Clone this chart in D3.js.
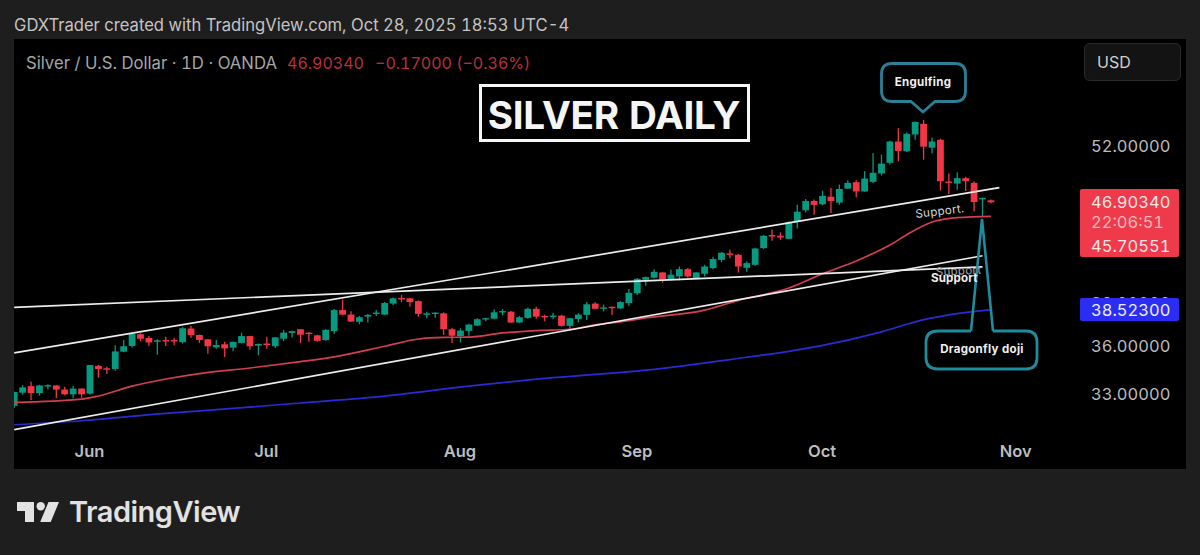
<!DOCTYPE html>
<html>
<head>
<meta charset="utf-8">
<script src="https://cdn.jsdelivr.net/npm/d3@7"></script>
<style>
  html, body { margin: 0; padding: 0; background: #1e1e1e; overflow: hidden; }
  text { font-family: Inter, "Noto Sans", sans-serif; font-variant-numeric: tabular-nums; }
</style>
</head>
<body>
<svg id="chart" width="1200" height="555"></svg>
<script>
// trading days, May 20 to Nov 3 (last three have no candle yet)
const days = [
  "05-20","05-21","05-22","05-23","05-26","05-27","05-28","05-29","05-30",
  "06-02","06-03","06-04","06-05","06-06","06-09","06-10","06-11","06-12","06-13","06-16","06-17","06-18","06-19","06-20","06-23","06-24","06-25","06-26","06-27","06-30",
  "07-01","07-02","07-03","07-04","07-07","07-08","07-09","07-10","07-11","07-14","07-15","07-16","07-17","07-18","07-21","07-22","07-23","07-24","07-25","07-28","07-29","07-30","07-31",
  "08-01","08-04","08-05","08-06","08-07","08-08","08-11","08-12","08-13","08-14","08-15","08-18","08-19","08-20","08-21","08-22","08-25","08-26","08-27","08-28","08-29",
  "09-01","09-02","09-03","09-04","09-05","09-08","09-09","09-10","09-11","09-12","09-15","09-16","09-17","09-18","09-19","09-22","09-23","09-24","09-25","09-26","09-29","09-30",
  "10-01","10-02","10-03","10-06","10-07","10-08","10-09","10-10","10-13","10-14","10-15","10-16","10-17","10-20","10-21","10-22","10-23","10-24","10-27","10-28","10-29","10-30","10-31",
  "11-03"];

const monthDays = ["06-02","07-01","08-01","09-01","10-01","11-03"];
const monthLabels = ["Jun","Jul","Aug","Sep","Oct","Nov"];
const priceTicks = [33, 36, 39, 52];

const opens = [
  32.29,33.08,33.48,33.06,33.48,33.52,33.27,32.98,33.33,33.02,
  34.75,34.59,34.55,35.66,36.04,36.82,36.57,36.31,36.43,36.43,
  36.29,37.21,36.77,36.48,35.95,36.15,35.93,36.24,36.70,36.06,
  36.20,36.02,36.52,36.91,37.16,36.93,36.75,36.43,37.03,38.49,
  38.17,37.67,38.03,38.22,38.17,38.95,39.35,39.33,39.13,38.20,
  38.24,38.26,37.16,36.70,37.05,37.41,37.85,37.89,38.35,38.38,
  37.62,37.94,38.58,38.08,38.03,38.10,37.39,37.87,38.15,38.95,
  38.61,38.72,38.61,38.99,39.69,40.69,40.84,41.24,40.69,40.94,
  41.49,40.82,41.14,41.57,42.20,42.70,42.60,41.59,41.82,43.12,
  44.17,44.11,43.86,45.24,46.22,47.01,46.73,47.39,46.87,48.09,
  48.66,47.84,48.69,49.45,50.42,52.43,51.50,53.11,54.16,51.84,
  52.60,48.72,48.54,49.02,48.60,47.20,47.07];
const highs = [
  33.15,33.54,33.75,33.56,33.60,33.55,33.44,33.48,33.35,34.82,
  34.80,34.69,36.08,36.43,36.89,36.89,36.70,36.48,36.66,36.59,
  37.30,37.39,36.80,36.50,36.43,36.31,36.33,36.93,36.72,36.20,
  36.66,36.63,37.12,37.05,37.18,36.95,36.79,37.16,38.56,39.23,
  38.40,38.08,38.22,38.49,39.06,39.38,39.56,39.35,39.18,38.38,
  38.33,38.33,37.27,37.23,37.53,37.92,37.96,38.54,38.56,38.42,
  38.08,38.65,38.72,38.17,38.31,38.15,37.96,38.26,39.06,39.04,
  38.88,38.74,39.13,40.01,40.82,40.94,41.49,41.26,41.44,41.69,
  41.57,41.26,41.82,42.44,42.82,43.00,42.65,42.07,43.14,44.17,
  44.61,44.38,45.29,46.68,47.18,47.15,47.91,48.15,48.45,48.84,
  48.84,49.65,51.32,51.19,52.50,53.74,53.31,54.38,54.55,52.82,
  52.69,49.45,49.56,49.15,48.75,47.30,47.14];
const lows = [
  32.16,32.96,32.64,32.90,33.27,32.74,32.93,32.74,32.77,32.96,
  34.00,34.23,34.44,35.63,35.93,36.34,36.04,35.47,36.04,36.08,
  36.20,36.59,36.24,35.53,35.86,35.32,35.70,36.20,35.79,35.43,
  35.86,35.90,36.36,36.61,36.24,36.31,36.31,36.38,36.84,38.15,
  37.65,37.51,37.62,38.08,38.13,38.84,39.06,38.72,38.03,37.92,
  37.96,36.77,36.24,36.27,36.72,37.39,37.71,37.85,38.13,37.58,
  37.58,37.89,37.89,37.71,37.85,37.34,37.07,37.62,37.80,38.54,
  38.40,38.15,38.56,38.77,39.56,40.24,40.79,40.48,40.64,40.64,
  40.86,40.77,40.94,41.49,42.02,42.32,41.24,41.29,41.74,43.06,
  43.70,43.78,43.84,44.69,46.04,45.85,46.65,45.99,46.68,48.06,
  47.33,47.81,48.60,49.26,50.26,50.56,51.44,52.60,50.71,51.32,
  47.93,47.61,48.00,47.88,46.12,45.71,46.82];
const closes = [
  33.12,33.40,33.06,33.52,33.54,33.27,32.98,33.33,32.98,34.80,
  34.55,34.53,35.68,36.02,36.84,36.52,36.27,36.41,36.36,36.36,
  37.23,36.77,36.43,36.02,36.10,35.88,36.31,36.70,36.02,36.17,
  36.10,36.61,36.93,37.03,36.79,36.84,36.38,37.12,38.49,38.17,
  37.69,37.99,38.15,38.31,38.99,39.33,39.28,39.06,38.22,38.26,
  38.31,37.16,36.72,37.07,37.48,37.85,37.92,38.33,38.42,37.62,
  37.99,38.58,38.03,38.01,38.10,37.39,37.92,38.17,38.90,38.58,
  38.68,38.65,39.06,39.73,40.76,40.89,41.29,40.69,41.07,41.49,
  40.94,41.24,41.69,42.27,42.75,42.60,41.69,41.95,43.09,44.11,
  44.05,43.97,45.24,46.10,47.01,46.68,47.45,47.01,48.06,48.60,
  47.84,48.99,49.51,50.35,52.43,51.53,53.18,54.35,51.94,52.43,
  48.75,48.60,49.02,48.75,46.92,47.28,46.90];

const sma50Days = ["05-20","05-30","06-03","06-09","06-13","06-19","06-27","07-07","07-11","07-21","07-25","07-30","08-04","08-08","08-14","08-20","08-25","08-28","09-02","09-11","09-17","09-25","10-01","10-07","10-13","10-15","10-20","10-23","10-29"];
const sma50 = [32.49,32.69,32.88,33.48,33.92,34.26,34.61,35.02,35.33,36.02,36.50,36.61,36.63,36.91,37.07,37.16,37.46,37.67,37.94,38.49,39.18,40.08,41.14,42.12,43.36,44.19,45.23,45.60,45.71];
const sma200Days = ["05-20","05-30","06-13","06-25","07-07","07-21","08-04","08-18","09-03","09-18","09-25","10-06","10-10","10-16","10-22","10-29"];
const sma200 = [31.19,31.42,31.85,32.14,32.46,32.87,33.48,34.00,34.52,35.30,35.68,36.43,36.98,37.67,38.15,38.52];

// hand drawn trend lines
const trendStartDays = ["05-20","05-20","05-20"];
const trendEndDays = ["10-28","10-30","10-28"];
const trendStartPrices = [38.68, 35.58, 30.91];
const trendEndPrices = [41.67, 48.18, 42.52];

const svg = d3.select("#chart");
const green = "#089981", red = "#f23645";

const x = d3.scalePoint().domain(days).range([14.2, 1016.2]);
const y = d3.scaleLog().domain([33, 52]).range([394, 146]);

svg.append("rect").attr("x", 14).attr("y", 39).attr("width", 1172).attr("height", 430).attr("fill", "#000");

svg.append("clipPath").attr("id", "pane")
  .append("rect").attr("x", 14).attr("y", 39).attr("width", 1060).attr("height", 430);

const pane = svg.append("g").attr("clip-path", "url(#pane)");

// candles
const candles = pane.append("g").selectAll("g")
  .data(closes.map((c, i) => ({ day: days[i], o: opens[i], h: highs[i], l: lows[i], c: c })))
  .enter().append("g");

candles.append("line")
  .attr("x1", d => x(d.day)).attr("x2", d => x(d.day))
  .attr("y1", d => y(d.h)).attr("y2", d => y(d.l))
  .attr("stroke", d => d.c >= d.o ? green : red)
  .attr("stroke-width", 1.3);

candles.append("rect")
  .attr("x", d => x(d.day) - 3.4)
  .attr("width", 6.8)
  .attr("y", d => y(Math.max(d.o, d.c)))
  .attr("height", d => Math.max(1.4, Math.abs(y(d.o) - y(d.c))))
  .attr("fill", d => d.c >= d.o ? green : red);

// moving averages
const maLine = d3.line().x(d => x(d[0])).y(d => y(d[1])).curve(d3.curveMonotoneX);
pane.append("path").datum(d3.zip(sma200Days, sma200))
  .attr("d", maLine).attr("fill", "none").attr("stroke", "#2b2bd6").attr("stroke-width", 1.7);
pane.append("path").datum(d3.zip(sma50Days, sma50))
  .attr("d", maLine).attr("fill", "none").attr("stroke", "#d23f50").attr("stroke-width", 1.7);

// trend lines
pane.append("g").selectAll("line")
  .data(trendStartDays.map((d, i) => i))
  .enter().append("line")
  .attr("x1", i => x(trendStartDays[i]))
  .attr("y1", i => y(trendStartPrices[i]))
  .attr("x2", i => x(trendEndDays[i]))
  .attr("y2", i => y(trendEndPrices[i]))
  .attr("stroke", "#ececec")
  .attr("stroke-width", 1.7);

// axes
const xAxis = svg.append("g").attr("transform", "translate(-1,442)")
  .call(d3.axisBottom(x).tickValues(monthDays).tickSize(0).tickPadding(0)
    .tickFormat(d => monthLabels[monthDays.indexOf(d)]));
xAxis.select(".domain").remove();
xAxis.selectAll("text").attr("fill", "#bdbdbd").attr("font-size", 16.5).attr("font-weight", 600)
  .attr("font-family", "Inter").attr("dy", "0.92em");

const yAxis = svg.append("g").attr("transform", "translate(1091,0)")
  .call(d3.axisRight(y).tickValues(priceTicks).tickSize(0).tickPadding(0).tickFormat(d3.format(".5f")));
yAxis.select(".domain").remove();
yAxis.selectAll("text").attr("fill", "#bcbcbc").attr("font-size", 16.5).attr("font-family", "Inter");

// price tags, the 39 tick stays behind the blue one as in the screenshot
svg.append("rect").attr("x", 1080).attr("y", 189).attr("width", 99).attr("height", 68).attr("rx", 2).attr("fill", "#ee3a4b");
svg.append("rect").attr("x", 1080).attr("y", 298).attr("width", 99).attr("height", 23).attr("rx", 2).attr("fill", "#2b2df2");

function tag(str, py, fill) {
  svg.append("text").attr("x", 1091).attr("y", py).attr("dy", "0.36em")
    .attr("fill", fill).attr("font-size", 16.5).text(str);
}
tag("46.90340", y(46.9034), "#f6e4e6");
tag("22:06:51", 222, "#f7b7bd");
tag("45.70551", 246, "#f6e4e6");
tag("38.52300", y(38.523), "#eeeeff");

// header and legend
svg.append("text").attr("x", 14).attr("y", 31).attr("fill", "#c4c4c4").attr("font-size", 16.6)
  .text("GDXTrader created with TradingView.com, Oct 28, 2025 18:53 UTC-4");
svg.append("text").attr("x", 26).attr("y", 69).attr("fill", "#a6a6a6").attr("font-size", 16.7)
  .text("Silver / U.S. Dollar · 1D · OANDA");
svg.append("text").attr("x", 287).attr("y", 69).attr("fill", "#b8303e").attr("font-size", 16).text("46.90340");
svg.append("text").attr("x", 375).attr("y", 69).attr("fill", "#b8303e").attr("font-size", 16).text("−0.17000 (−0.36%)");

// USD button
svg.append("rect").attr("x", 1084.5).attr("y", 43.5).attr("width", 96).attr("height", 37).attr("rx", 5)
  .attr("fill", "#131313").attr("stroke", "#2a2a2a");
svg.append("text").attr("x", 1097).attr("y", 68).attr("fill", "#cfcfcf").attr("font-size", 16).text("USD");

// title box
svg.append("rect").attr("x", 480.5).attr("y", 85.5).attr("width", 268).attr("height", 55)
  .attr("fill", "#000").attr("stroke", "#f5f5f5").attr("stroke-width", 3);
svg.append("text").attr("x", 614).attr("y", 129).attr("text-anchor", "middle").attr("fill", "#f5f5f5")
  .attr("font-size", 38.7).attr("font-weight", 700).attr("letter-spacing", -0.3).text("SILVER DAILY");

// callouts
svg.append("path")
  .attr("d", "M892,63.5 H955 Q965.5,63.5 965.5,74 V91 Q965.5,101.5 955,101.5 H935 L923,112 L911,101.5 H892 Q881.5,101.5 881.5,91 V74 Q881.5,63.5 892,63.5 Z")
  .attr("fill", "#000").attr("stroke", "#2b7f96").attr("stroke-width", 2.8);
svg.append("text").attr("x", 923).attr("y", 86).attr("text-anchor", "middle").attr("fill", "#f0f0f0")
  .attr("font-size", 11.5).attr("font-weight", 700).attr("letter-spacing", 0.3).text("Engulfing");

svg.append("path")
  .attr("d", "M971,331 L982,219 L993,331")
  .attr("fill", "none").attr("stroke", "#1f8b9c").attr("stroke-width", 2.6);
svg.append("path")
  .attr("d", "M971,331 H938 Q926,331 926,342 V358 Q926,369 938,369 H1026 Q1037,369 1037,358 V342 Q1037,331 1026,331 H993")
  .attr("fill", "#000").attr("stroke", "#1f8b9c").attr("stroke-width", 2.8);
svg.append("text").attr("x", 982).attr("y", 353).attr("text-anchor", "middle").attr("fill", "#f0f0f0")
  .attr("font-size", 11.5).attr("font-weight", 700).attr("letter-spacing", 0.3).text("Dragonfly doji");

// support labels
svg.append("text").attr("transform", "translate(916,218) rotate(-7)").attr("fill", "#d8d8d8")
  .attr("font-size", 11.5).attr("letter-spacing", 0.3).text("Support.");
svg.append("text").attr("transform", "translate(936,276) rotate(-3)").attr("fill", "#a8a8a8")
  .attr("font-size", 11.5).attr("letter-spacing", 0.3).text("Support");
svg.append("text").attr("x", 931).attr("y", 282).attr("fill", "#f0f0f0")
  .attr("font-size", 11.5).attr("font-weight", 700).attr("letter-spacing", 0.2).text("Support");

// TradingView logo
const logo = svg.append("g").attr("fill", "#e2e2e2");
logo.append("path").attr("d", "M17,502 H34 V522 H25 V511 H17 Z");
logo.append("circle").attr("cx", 40.7).attr("cy", 506.3).attr("r", 4.2);
logo.append("path").attr("d", "M48.5,502 H59 L50.7,522 H40.2 Z");
svg.append("text").attr("x", 69).attr("y", 522).attr("fill", "#e2e2e2")
  .attr("font-size", 29).attr("font-weight", 600).attr("letter-spacing", -0.5).text("TradingView");
</script>
</body>
</html>
